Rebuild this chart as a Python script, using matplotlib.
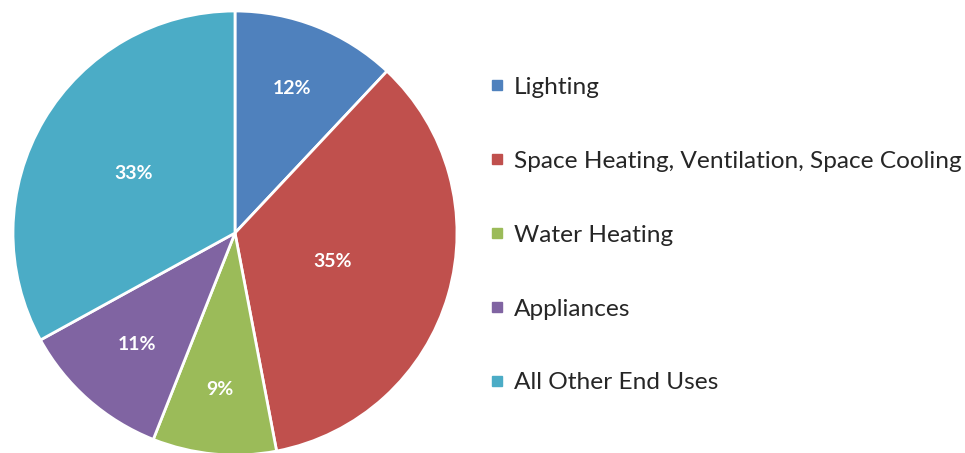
import numpy as np
import matplotlib
matplotlib.use('Agg')
import matplotlib.pyplot as plt
from matplotlib.lines import Line2D

plt.rcParams['font.family'] = ['Lato', 'DejaVu Sans']

# data
categories = ['Lighting', 'Space Heating, Ventilation, Space Cooling',
              'Water Heating', 'Appliances', 'All Other End Uses']
shares = [12, 35, 9, 11, 33]
colors = ['#4F81BD', '#C0504D', '#9BBB59', '#8064A2', '#4BACC6']
label_r = [0.70, 0.46, 0.71, 0.67, 0.53]  # radial position of each % label

fig = plt.figure(figsize=(9.65, 4.53), dpi=100)
ax = fig.add_axes([13/965, -2/453, 444/965, 444/453])

wedges, _ = ax.pie(shares, colors=colors, startangle=90, counterclock=False,
                   radius=1, wedgeprops=dict(edgecolor='white', linewidth=2))
ax.set_xlim(-1, 1)
ax.set_ylim(-1, 1)

# percent labels
for w, v, r in zip(wedges, shares, label_r):
    ang = np.deg2rad((w.theta1 + w.theta2) / 2)
    ax.text(r*np.cos(ang), r*np.sin(ang), f'{v}%', color='white',
            fontsize=14, fontweight='bold', ha='center', va='center')

handles = [Line2D([], [], marker='s', linestyle='none', markersize=7,
                  markerfacecolor=c, markeredgecolor=c) for c in colors]
fig.legend(handles, categories, loc='center left', bbox_to_anchor=(0.486, 0.481),
           frameon=False, fontsize=17.6, handlelength=0.5, handletextpad=0.45,
           labelspacing=2.16, labelcolor='#262626')

fig.savefig('out.png', dpi=100)
